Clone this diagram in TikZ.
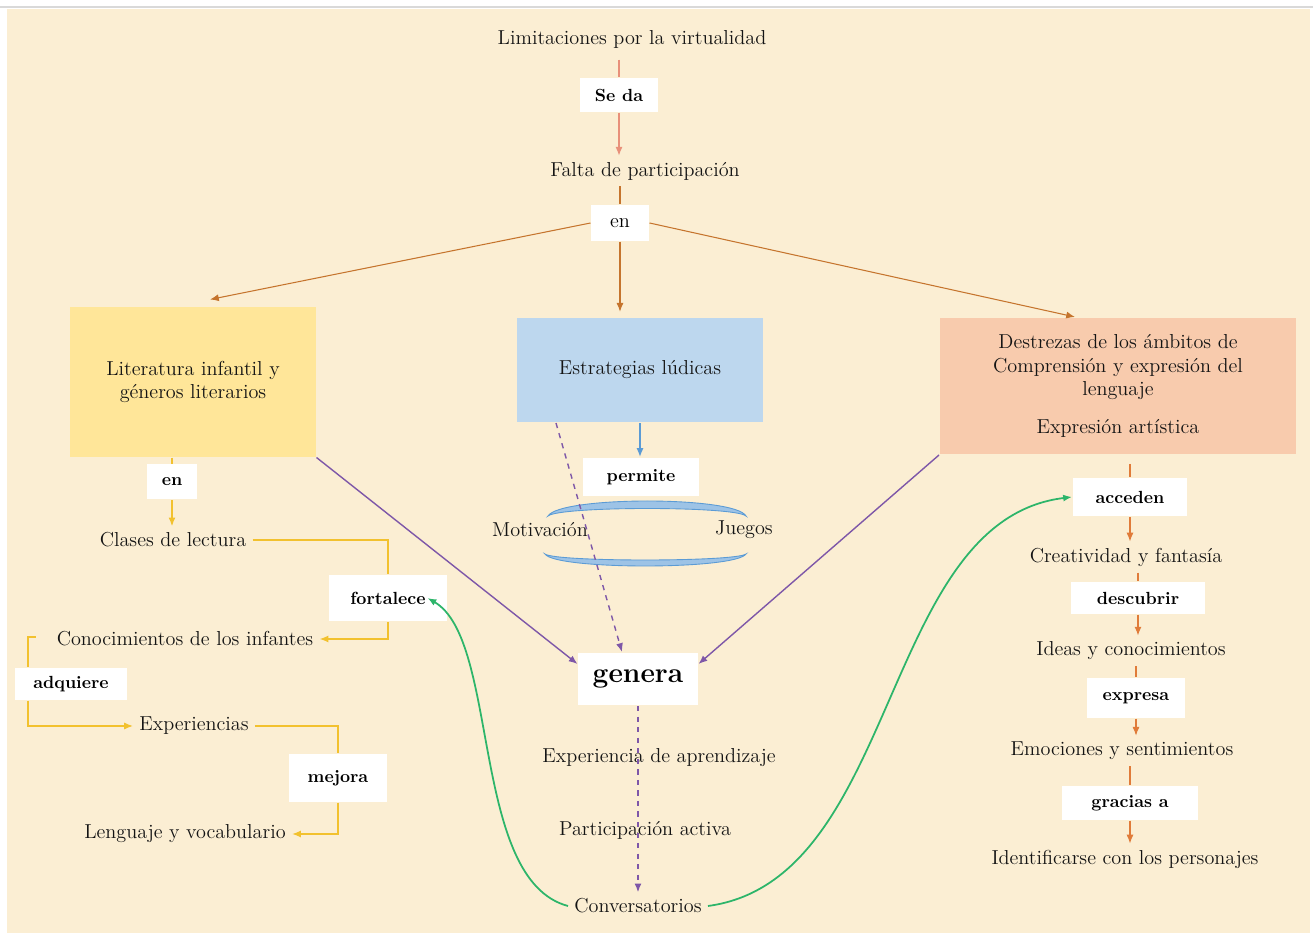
\documentclass[tikz,border=0pt]{standalone}
\usepackage{fontspec}
\usepackage{xcolor}
\usepackage{tikz}
\usetikzlibrary{arrows.meta}
\usetikzlibrary{positioning}
\definecolor{fondo}{HTML}{FBEED3}
\definecolor{amarillo}{HTML}{FFE699}
\definecolor{celeste}{HTML}{BDD7EE}
\definecolor{salmon}{HTML}{F8CBAD}
\definecolor{naranja}{HTML}{C5742D}
\definecolor{naranjac}{HTML}{E07B39}
\definecolor{rosa}{HTML}{E8907A}
\definecolor{oro}{HTML}{F2C12E}
\definecolor{morado}{HTML}{7E57A8}
\definecolor{verde}{HTML}{2DB56A}
\definecolor{azul}{HTML}{5B9BD5}
\definecolor{lente}{HTML}{9DC3E6}
\tikzset{
    txtnode/.style = {align=center, font=\fontsize{11.5}{13.5}\selectfont, text=black!92},
    lblnode/.style = {fill=white, align=center, font=\bfseries\normalsize, text=black},
    boxnode/.style = {align=center, font=\fontsize{11.5}{13.5}\selectfont, text=black!92},
}

\begin{document}
\begin{tikzpicture}[
	x=0.02cm, y=-0.02cm,
	line width=0.6pt,
	>={Latex[length=5pt,width=4pt]}
]
\tikzset{
    edger/.style = {rosa},
    edgeo/.style = {naranja},
    edgenc/.style = {naranjac},
    edgey/.style = {oro, line width=0.8pt},
    edgeb/.style = {azul, line width=0.8pt},
    edgep/.style = {morado, line width=0.8pt},
    edgeg/.style = {verde, line width=1pt}
}
\useasboundingbox (0,0) rectangle (1313,935);
\fill[white] (0,0) rectangle (1313,935);
\fill[fondo] (7,9) rectangle (1310,933);
\draw[black!15] (0,7) -- (1313,7);
%
\node[txtnode] at (632,39) (lim) {Limitaciones por la virtualidad};
\node[lblnode, minimum width=1.56cm, minimum height=0.68cm] at (619,95) (seda) {Se da};
\node[txtnode] at (645,171) (falta) {Falta de participación};
\node[lblnode, font=\fontsize{11.5}{13.5}\selectfont, minimum width=1.16cm, minimum height=0.72cm] at (620,223) (en) {en};
%
\node[boxnode, fill=amarillo, minimum width=4.92cm, minimum height=3cm] at (193,382) (lit) {Literatura infantil y\\géneros literarios};
\node[boxnode, fill=celeste, minimum width=4.94cm, minimum height=2.1cm] at (640,370) (estr) {Estrategias lúdicas};
\node[boxnode, fill=salmon, minimum width=7.14cm, minimum height=2.74cm] at (1118,386) (dest) {Destrezas de los ámbitos de\\Comprensión y expresión del\\lenguaje\\[8pt]Expresión artística};
%
\node[lblnode, minimum width=2.34cm, minimum height=0.78cm] at (641,477) (perm) {permite};
\node[txtnode] at (540,530) (motiv) {Motivación};
\node[txtnode] at (744,530) (juegos) {Juegos};
\node[lblnode, font=\bfseries\fontsize{16}{19}\selectfont, minimum width=2.4cm, minimum height=1.06cm] at (638,679) (gen) {genera};
\node[txtnode] at (659,758) (expap) {Experiencia de aprendizaje};
\node[txtnode] at (645,830) (parta) {Participación activa};
\node[txtnode] at (638,906) (conv) {Conversatorios};
%
\node[lblnode, minimum width=1.0cm, minimum height=0.7cm] at (172,482) (enl) {en};
\node[txtnode] at (173,540) (clases) {Clases de lectura};
\node[lblnode, minimum width=2.36cm, minimum height=0.94cm] at (388,598) (fort) {fortalece};
\node[txtnode] at (185,639) (conoc) {Conocimientos de los infantes};
\node[lblnode, minimum width=2.26cm, minimum height=0.64cm] at (71,684) (adq) {adquiere};
\node[txtnode] at (194,726) (exper) {Experiencias};
\node[lblnode, minimum width=1.98cm, minimum height=0.96cm] at (338,778) (mej) {mejora};
\node[txtnode] at (185,834) (leng) {Lenguaje y vocabulario};
\coordinate (adqT) at (28,637);
%
\node[lblnode, minimum width=2.3cm, minimum height=0.78cm] at (1130,497) (acc) {acceden};
\node[txtnode] at (1126,557) (creat) {Creatividad y fantasía};
\node[lblnode, minimum width=2.68cm, minimum height=0.64cm] at (1138,598) (desc) {descubrir};
\node[txtnode] at (1131,651) (ideas) {Ideas y conocimientos};
\node[lblnode, minimum width=1.96cm, minimum height=0.8cm] at (1136,698) (expr) {expresa};
\node[txtnode] at (1122,751) (emoc) {Emociones y sentimientos};
\node[lblnode, minimum width=2.72cm, minimum height=0.68cm] at (1130,803) (grac) {gracias a};
\node[txtnode] at (1125,859) (ident) {Identificarse con los personajes};
%
\fill[lente, draw=azul, line width=0.5pt] (548,516) .. controls (560,496) and (735,496) .. (746,516) .. controls (735,506) and (560,506) .. cycle;
\fill[lente, draw=azul, line width=0.5pt] (545,554) .. controls (555,570) and (735,570) .. (746,554) .. controls (735,562) and (555,562) .. cycle;
%
\draw[edger, shorten <=3pt] (lim.south -| seda.north) -- (seda.north);
\draw[edger,->] (seda.south) -- (seda.south |- falta.north);
\draw[edgeo] (falta.south -| en.north) -- (en.north);
\draw[edgeo,->] (en.west) -- ([xshift=0.34cm,yshift=0.14cm]lit.north);
\draw[edgeo,->, shorten >=3pt] (en.south) -- (en.south |- estr.north);
\draw[edgeo,->] (en.east) -- ([xshift=-0.86cm]dest.north);
%
\draw[edgeb,->] (estr.south) -- (estr.south |- perm.north);
\draw[edgep,->] (lit.south east) -- ([yshift=-0.24cm]gen.north west);
\draw[edgep,->] (dest.south west) -- ([yshift=-0.24cm]gen.north east);
\draw[edgep,dashed,->] ([xshift=0.8cm]estr.south west) -- ([xshift=-0.32cm]gen.north);
\draw[edgep,dashed,->] (gen.south) -- (conv.north);
%
\draw[edgey] (lit.south -| enl.north) -- (enl.north);
\draw[edgey,->] (enl.south) -- (enl.south |- clases.north);
\draw[edgey] (clases.east) -| (fort.north);
\draw[edgey,->] (fort.south) |- (conoc.east);
\draw[edgey] ([xshift=0.16cm]adqT) -- (adqT) -- (adqT |- adq.north);
\draw[edgey,->] (adqT |- adq.south) |- (exper.west);
\draw[edgey] (exper.east) -| (mej.north);
\draw[edgey,->] (mej.south) |- (leng.east);
%
\draw[edgenc, shorten <=5pt] (dest.south -| acc.north) -- (acc.north);
\draw[edgenc,->] (acc.south) -- (acc.south |- creat.north);
\draw[edgenc] (creat.south -| desc.north) -- (desc.north);
\draw[edgenc,->] (desc.south) -- (desc.south |- ideas.north);
\draw[edgenc] (ideas.south -| expr.north) -- (expr.north);
\draw[edgenc,->] (expr.south) -- (expr.south |- emoc.north);
\draw[edgenc] (emoc.south -| grac.north) -- (grac.north);
\draw[edgenc,->] (grac.south) -- (grac.south |- ident.north);
%
\draw[edgeg,->] (conv.west) .. controls (470,880) and (500,640) .. ([xshift=-0.4cm]fort.east);
\draw[edgeg,->] (conv.east) .. controls (900,880) and (880,520) .. (acc.west);
\end{tikzpicture}
\end{document}
